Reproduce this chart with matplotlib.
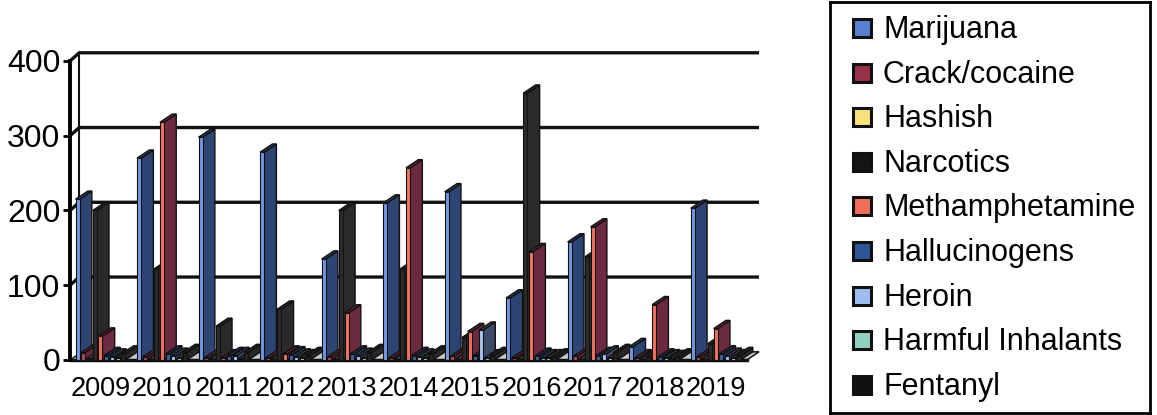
import numpy as np
import matplotlib.pyplot as plt
from matplotlib.patches import Polygon, Rectangle

plt.rcParams['font.family'] = ['Liberation Sans', 'DejaVu Sans']

years = ['2009', '2010', '2011', '2012', '2013', '2014', '2015', '2016', '2017', '2018', '2019']
series = ['Marijuana', 'Crack/cocaine', 'Hashish', 'Narcotics', 'Methamphetamine',
          'Hallucinogens', 'Heroin', 'Harmful Inhalants', 'Fentanyl']

marijuana = [215, 270, 298, 278, 135, 210, 225, 83, 158, 18, 203]
crack     = [10, 4, 3, 3, 4, 3, 5, 3, 5, 3, 4]
hashish   = [2, 1, 1, 1, 1, 1, 1, 1, 1, 1, 1]
narcotics = [200, 122, 45, 68, 200, 122, 30, 357, 138, 4, 22]
meth      = [32, 318, 3, 8, 63, 257, 38, 145, 178, 74, 42]
halluc    = [6, 8, 6, 7, 8, 6, 6, 5, 6, 4, 8]
heroin    = [4, 5, 6, 4, 5, 4, 40, 3, 8, 3, 5]
inhalants = [3, 3, 2, 3, 3, 3, 3, 3, 3, 2, 3]
fentanyl  = [8, 10, 10, 6, 10, 8, 6, 4, 10, 4, 6]

values = [marijuana, crack, hashish, narcotics, meth, halluc, heroin, inhalants, fentanyl]

# legend colours / front face, side face
legend_colors = ['#5b80d2', '#9a2f48', '#f7e27c', '#151515', '#f26c5a',
                 '#2f5597', '#a0bdf2', '#93d0c2', '#111111']
front_colors = ['#7198e4', '#b34a5e', '#e9d47c', '#2b2b2b', '#f4725f',
                '#3c62ab', '#aac6f3', '#a0d7c9', '#262626']
side_colors = ['#2e4473', '#6a2a3e', '#6e6a58', '#2a2a2a', '#6c2a3e',
               '#26375a', '#3e4b68', '#3e4a48', '#282828']

DX = 0.20   # depth offset in x (group units)
DY = 11.0   # depth offset in y (value units)
WF = 0.065  # front face width
SLOT = 0.093
START = -0.41

fig = plt.figure(figsize=(11.57, 4.15), dpi=100)
ax = fig.add_axes([70 / 1157, 50 / 415, 707.5 / 1157, 325 / 415])
ax.set_xlim(-0.5, 11.0)
ax.set_ylim(-6.69, 428.09)

# back wall gridlines + floor
for v in [100, 200, 300, 400]:
    ax.plot([-0.5, -0.5 + 0.15, 10.5 + DX], [v, v + DY, v + DY], color='#111', lw=2.4, zorder=1,
            solid_capstyle='butt')
ax.plot([-0.5 + 0.15, -0.5 + 0.15], [DY, 400 + DY], color='#111', lw=1.5, zorder=1)
floor = Polygon([(-0.5, 0), (10.5, 0), (10.5 + DX, DY), (-0.5 + DX, DY)],
                closed=True, facecolor='#c9c9c9', edgecolor='#222', lw=1.2, zorder=2)
ax.add_patch(floor)
ax.plot([-0.5, 10.5], [0, 0], color='#111', lw=2.5, zorder=2.5)

# 3D-looking bars
z = 3.0
for i in range(len(years)):
    for j in range(len(series)):
        v = values[j][i]
        x0 = i + START + j * SLOT
        z += 0.01
        side = Polygon([(x0 + WF, 0), (x0 + WF + DX, DY), (x0 + WF + DX, v + DY), (x0 + WF, v)],
                       closed=True, facecolor=side_colors[j], edgecolor='#111', lw=1.0, zorder=z)
        top = Polygon([(x0, v), (x0 + WF, v), (x0 + WF + DX, v + DY), (x0 + DX, v + DY)],
                      closed=True, facecolor=side_colors[j], edgecolor='#111', lw=1.0, zorder=z)
        ax.add_patch(side)
        ax.add_patch(top)
        ax.bar(x0, v, width=WF, align='edge', color=front_colors[j], edgecolor='#111',
               lw=0.8, zorder=z + 0.001)

for s in ['top', 'right', 'bottom']:
    ax.spines[s].set_visible(False)
ax.spines['left'].set_bounds(0, 400)
ax.spines['left'].set_linewidth(2.8)
ax.spines['left'].set_zorder(2.6)
ax.set_yticks([0, 100, 200, 300, 400])
ax.tick_params(axis='y', labelsize=23, length=5, width=2, pad=2)
ax.set_xticks(range(len(years)))
ax.set_xticklabels(years)
ax.tick_params(axis='x', labelsize=19.5, length=0, pad=8)

# legend box
lax = fig.add_axes([830 / 1157, 2 / 415, 320 / 1157, 411 / 415])
lax.set_xlim(0, 320)
lax.set_ylim(411, 0)
lax.set_xticks([])
lax.set_yticks([])
for s in lax.spines.values():
    s.set_linewidth(2)
for k, name in enumerate(series):
    yc = 26 + k * 44.6
    lax.add_patch(Rectangle((23, yc - 9), 18, 18, facecolor=legend_colors[k],
                            edgecolor='#111', lw=2.2))
    lax.text(53, yc + 10, name, fontsize=22, va='baseline', ha='left')

fig.savefig('out.png', dpi=100)
